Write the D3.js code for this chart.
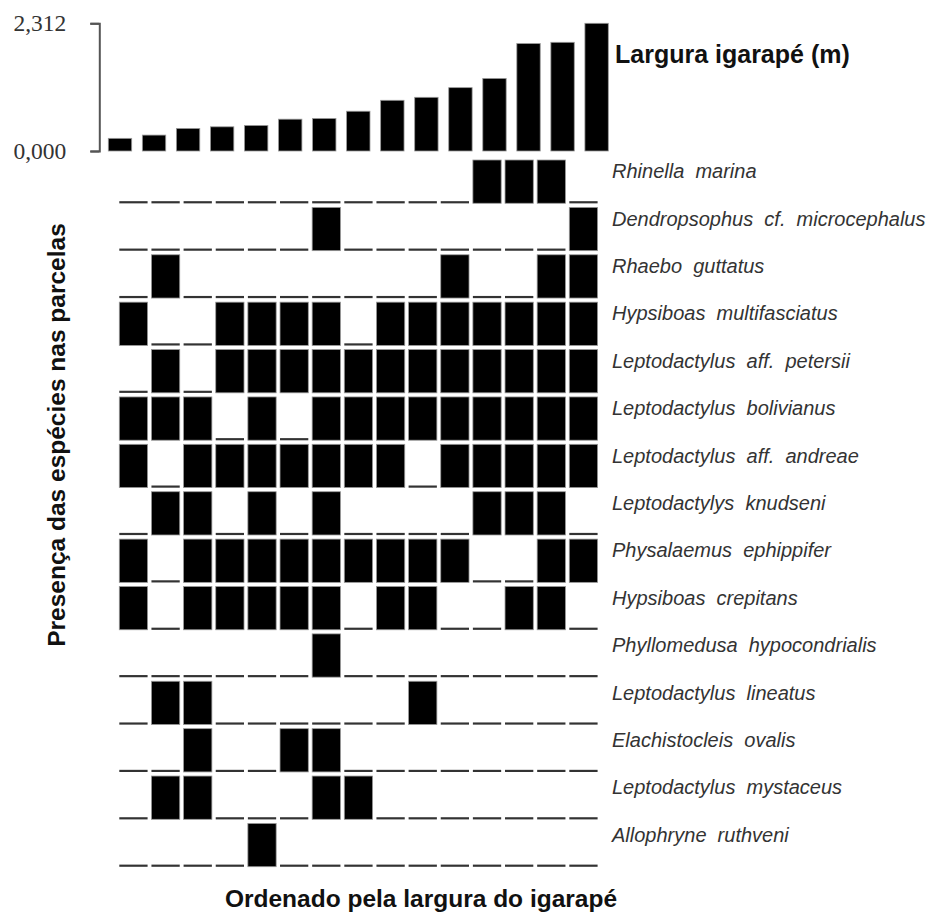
<!DOCTYPE html>
<html>
<head>
<meta charset="utf-8">
<script src="https://cdn.jsdelivr.net/npm/d3@7"></script>
<style>
  body { margin: 0; background: #fff; }
  text { font-family: "Liberation Sans", Arial, sans-serif; }
</style>
</head>
<body>
<div id="chart-container"></div>
<script>
// stream width per plot (m), plots ordered by width
const widths = [0.229, 0.288, 0.409, 0.438, 0.463, 0.576, 0.589, 0.720, 0.918, 0.972, 1.147, 1.314, 1.945, 1.968, 2.312];

const species = [
  "Rhinella  marina",
  "Dendropsophus  cf.  microcephalus",
  "Rhaebo  guttatus",
  "Hypsiboas  multifasciatus",
  "Leptodactylus  aff.  petersii",
  "Leptodactylus  bolivianus",
  "Leptodactylus  aff.  andreae",
  "Leptodactylys  knudseni",
  "Physalaemus  ephippifer",
  "Hypsiboas  crepitans",
  "Phyllomedusa  hypocondrialis",
  "Leptodactylus  lineatus",
  "Elachistocleis  ovalis",
  "Leptodactylus  mystaceus",
  "Allophryne  ruthveni"
];

// 1 = present in plot, 0 = absent
const presence = [
  [0,0,0,0,0,0,0,0,0,0,0,1,1,1,0],
  [0,0,0,0,0,0,1,0,0,0,0,0,0,0,1],
  [0,1,0,0,0,0,0,0,0,0,1,0,0,1,1],
  [1,0,0,1,1,1,1,0,1,1,1,1,1,1,1],
  [0,1,0,1,1,1,1,1,1,1,1,1,1,1,1],
  [1,1,1,0,1,0,1,1,1,1,1,1,1,1,1],
  [1,0,1,1,1,1,1,1,1,0,1,1,1,1,1],
  [0,1,1,0,1,0,1,0,0,0,0,1,1,1,0],
  [1,0,1,1,1,1,1,1,1,1,1,0,0,1,1],
  [1,0,1,1,1,1,1,0,1,1,0,0,1,1,0],
  [0,0,0,0,0,0,1,0,0,0,0,0,0,0,0],
  [0,1,1,0,0,0,0,0,0,1,0,0,0,0,0],
  [0,0,1,0,0,1,1,0,0,0,0,0,0,0,0],
  [0,1,1,0,0,0,1,1,0,0,0,0,0,0,0],
  [0,0,0,0,1,0,0,0,0,0,0,0,0,0,0]
];

const yTicks = [0, 2.312];
const tickLabels = ["0,000", "2,312"];

const width = 939, height = 917;
const plots = d3.range(widths.length);

const svg = d3.select("#chart-container").append("svg")
  .attr("width", width)
  .attr("height", height);

// ---- top bar chart
let xTop = d3.scaleBand()
  .domain(plots)
  .range([108.3, 608.3])
  .paddingInner(0.313);

let yTop = d3.scaleLinear()
  .domain([0, 2.312])
  .range([151, 23.3]);

svg.append("g")
  .selectAll("rect")
  .data(widths).enter()
  .append("rect")
  .attr("x", (d, i) => xTop(i))
  .attr("y", (d) => yTop(d))
  .attr("width", xTop.bandwidth())
  .attr("height", (d) => yTop(0) - yTop(d))
  .attr("fill", "#000")
  .attr("stroke", "#999")
  .attr("stroke-width", 0.8);

let yAxis = d3.axisLeft(yTop)
  .tickValues(yTicks)
  .tickFormat((d, i) => tickLabels[i])
  .tickSize(9)
  .tickPadding(24);

let axisG = svg.append("g")
  .attr("transform", "translate(99.3,0)")
  .call(yAxis);

axisG.selectAll("path, line")
  .attr("stroke", "#555")
  .attr("stroke-width", 2);
axisG.selectAll("text")
  .style("font-family", "'Liberation Serif', 'Times New Roman', serif")
  .attr("font-size", 23.5)
  .attr("fill", "#333");

svg.append("text")
  .attr("x", 615)
  .attr("y", 63)
  .attr("font-size", 25)
  .attr("font-weight", "bold")
  .attr("fill", "#111")
  .text("Largura igarapé (m)");

// ---- presence matrix
let xCol = d3.scaleBand()
  .domain(plots)
  .range([119.3, 597.6])
  .paddingInner(0.12);

let yRow = d3.scaleBand()
  .domain(d3.range(species.length))
  .range([160, 866.7])
  .paddingInner(0.087);

let cells = [];
presence.forEach((row, r) => row.forEach((v, c) => cells.push({r: r, c: c, v: v})));

let matrix = svg.append("g").attr("class", "matrix");

matrix.selectAll("rect.present")
  .data(cells.filter((d) => d.v == 1)).enter()
  .append("rect")
  .attr("class", "present")
  .attr("x", (d) => xCol(d.c))
  .attr("y", (d) => yRow(d.r))
  .attr("width", xCol.bandwidth())
  .attr("height", yRow.bandwidth())
  .attr("fill", "#000")
  .attr("stroke", "#999")
  .attr("stroke-width", 0.8);

matrix.selectAll("line.absent")
  .data(cells.filter((d) => d.v == 0)).enter()
  .append("line")
  .attr("class", "absent")
  .attr("x1", (d) => xCol(d.c))
  .attr("x2", (d) => xCol(d.c) + xCol.bandwidth())
  .attr("y1", (d) => yRow(d.r) + yRow.bandwidth() - 1)
  .attr("y2", (d) => yRow(d.r) + yRow.bandwidth() - 1)
  .attr("stroke", "#333")
  .attr("stroke-width", 2.2);

svg.append("g")
  .selectAll("text")
  .data(species).enter()
  .append("text")
  .attr("x", 612)
  .attr("y", (d, i) => yRow(i) + yRow.bandwidth() - 25)
  .attr("font-size", 20)
  .attr("font-style", "italic")
  .attr("fill", "#333")
  .style("white-space", "pre")
  .text((d) => d);

// axis titles
svg.append("text")
  .attr("transform", "translate(65,435) rotate(-90)")
  .attr("text-anchor", "middle")
  .attr("font-size", 24.5)
  .attr("font-weight", "bold")
  .attr("fill", "#111")
  .text("Presença das espécies nas parcelas");

svg.append("text")
  .attr("x", 421)
  .attr("y", 906.7)
  .attr("text-anchor", "middle")
  .attr("font-size", 24.5)
  .attr("font-weight", "bold")
  .attr("fill", "#111")
  .text("Ordenado pela largura do igarapé");
</script>
</body>
</html>
